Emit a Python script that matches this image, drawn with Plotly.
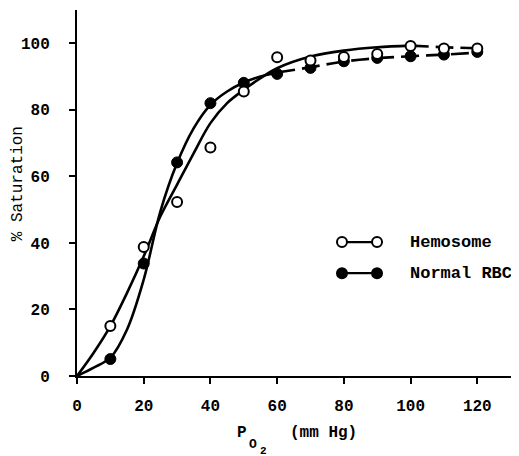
import plotly.graph_objects as go

# ---- measured points ----
po2 = [10, 20, 30, 40, 50, 60, 70, 80, 90, 100, 110, 120]
hemosome_sat = [15.0, 38.8, 52.3, 68.7, 85.5, 95.8, 94.8, 95.9, 96.8, 99.2, 98.4, 98.4]
normal_sat = [5.1, 33.8, 64.2, 82.0, 88.1, 90.8, 92.6, 94.6, 95.6, 96.1, 96.6, 97.4]

# ---- fitted curves ----
hemo_curve_x = [0, 5, 10, 15, 20, 25, 30, 35, 40, 45, 50, 55, 60, 70, 80, 90, 100]
hemo_curve_y = [0, 7, 15, 25, 36, 48, 57.5, 67, 76, 82, 86, 89.5, 92.5, 96, 97.8, 98.8, 99.3]
hemo_tail_x = [100, 110, 120]
hemo_tail_y = [99.3, 98.8, 98.5]

norm_curve_x = [0, 5, 10, 15, 20, 25, 30, 35, 40, 45, 50, 55, 60]
norm_curve_y = [0, 2.5, 5.5, 14, 29, 49.5, 64, 74.5, 81.5, 85.5, 88.2, 90, 91.2]
norm_tail_x = [60, 70, 80, 90, 100, 110, 120]
norm_tail_y = [91.2, 92.8, 94.5, 95.5, 96.1, 96.6, 97.2]

x_ticks = [0, 20, 40, 60, 80, 100, 120]
y_ticks = [0, 20, 40, 60, 80, 100]

MONO = "Liberation Mono, Courier New, monospace"
INK = "black"

fig = go.Figure()

curve_line = dict(color=INK, width=2.6, shape="spline", smoothing=1.0)
dash_line = dict(color=INK, width=2.6, shape="spline", smoothing=1.0, dash="18px,7px")

fig.add_trace(go.Scatter(x=hemo_curve_x, y=hemo_curve_y, mode="lines", line=curve_line,
                         showlegend=False, hoverinfo="skip"))
fig.add_trace(go.Scatter(x=hemo_tail_x, y=hemo_tail_y, mode="lines", line=dash_line,
                         showlegend=False, hoverinfo="skip"))
fig.add_trace(go.Scatter(x=norm_curve_x, y=norm_curve_y, mode="lines", line=curve_line,
                         showlegend=False, hoverinfo="skip"))
fig.add_trace(go.Scatter(x=norm_tail_x, y=norm_tail_y, mode="lines", line=dash_line,
                         showlegend=False, hoverinfo="skip"))

fig.add_trace(go.Scatter(x=po2, y=normal_sat, mode="markers", name="Normal RBC",
                         marker=dict(symbol="circle", size=11, color=INK,
                                     line=dict(color=INK, width=1)),
                         showlegend=False))
fig.add_trace(go.Scatter(x=po2, y=hemosome_sat, mode="markers", name="Hemosome",
                         marker=dict(symbol="circle", size=10, color="white",
                                     line=dict(color=INK, width=2)),
                         showlegend=False))

# ---- hand-drawn style legend ----
def legend_row(yp, filled, label):
    x_left, x_right = 0.605, 0.685
    fig.add_shape(type="line", xref="paper", yref="paper", x0=x_left, x1=x_right,
                  y0=yp, y1=yp, line=dict(color=INK, width=2.2))
    for xc in (x_left, x_right):
        fig.add_shape(type="circle", xref="paper", yref="paper",
                      xsizemode="pixel", ysizemode="pixel",
                      xanchor=xc, yanchor=yp, x0=-5, x1=5, y0=-5, y1=5,
                      fillcolor=INK if filled else "white",
                      line=dict(color=INK, width=2))
    fig.add_annotation(xref="paper", yref="paper", x=0.756, y=yp, text=label,
                       showarrow=False, xanchor="left", yanchor="middle",
                       font=dict(family=MONO, size=17, color=INK, weight="bold"))

legend_row(0.366, False, "Hemosome")
legend_row(0.281, True, "Normal RBC")

# ---- axis titles ----
fig.add_annotation(xref="paper", yref="paper", x=-0.136, y=0.525,
                   text="% Saturation", textangle=-90, showarrow=False,
                   xanchor="center", yanchor="middle",
                   font=dict(family=MONO, size=16, color=INK))
title_font = dict(family=MONO, size=16, color=INK, weight="bold")
fig.add_annotation(xref="paper", yref="paper", x=0.377, y=-0.156, text="P",
                   showarrow=False, xanchor="center", yanchor="middle", font=title_font)
fig.add_annotation(xref="paper", yref="paper", x=0.402, y=-0.187, text="O",
                   showarrow=False, xanchor="center", yanchor="middle",
                   font=dict(family=MONO, size=13, color=INK, weight="bold"))
fig.add_annotation(xref="paper", yref="paper", x=0.425, y=-0.206, text="2",
                   showarrow=False, xanchor="center", yanchor="middle",
                   font=dict(family=MONO, size=11, color=INK, weight="bold"))
fig.add_annotation(xref="paper", yref="paper", x=0.482, y=-0.156, text="(mm Hg)",
                   showarrow=False, xanchor="left", yanchor="middle", font=title_font)

fig.update_xaxes(range=[0, 131.3], tickvals=x_ticks, ticks="outside", ticklen=6,
                 tickwidth=2, tickcolor=INK, showline=True, linecolor=INK, linewidth=2,
                 showgrid=False, zeroline=False, ticklabelstandoff=8,
                 tickfont=dict(family=MONO, size=16, color=INK, weight="bold"))
fig.update_yaxes(range=[0, 110], tickvals=y_ticks, ticks="outside", ticklen=6,
                 tickwidth=2, tickcolor=INK, showline=True, linecolor=INK, linewidth=2,
                 showgrid=False, zeroline=False, ticklabelstandoff=16,
                 tickfont=dict(family=MONO, size=16, color=INK, weight="bold"))

# page body adds an 8px offset, so the figure is drawn 8px smaller with matching margins
fig.update_layout(width=511, height=448, margin=dict(l=69, r=4, t=2, b=80),
                  paper_bgcolor="white", plot_bgcolor="white", showlegend=False)

fig.write_html("out.html")
